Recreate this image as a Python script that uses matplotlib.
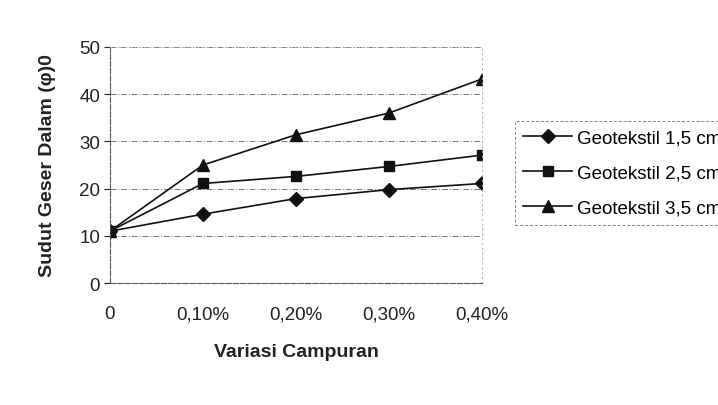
import numpy as np
import matplotlib
matplotlib.use("Agg")
import matplotlib.pyplot as plt

plt.rcParams['font.family'] = ['Liberation Sans', 'DejaVu Sans']

# kadar campuran dan sudut geser dalam untuk tiap tebal geotekstil
variasi = ['0', '0,10%', '0,20%', '0,30%', '0,40%']
geo_15 = [11.0, 14.6, 17.9, 19.8, 21.1]
geo_25 = [11.0, 21.1, 22.6, 24.7, 27.1]
geo_35 = [11.0, 25.0, 31.4, 36.0, 43.2]
label_seri = ['Geotekstil 1,5 cm', 'Geotekstil 2,5 cm', 'Geotekstil 3,5 cm']

fig = plt.figure(figsize=(7.18, 4.06), dpi=100)
ax = fig.add_axes([0.153, 0.300, 0.518, 0.582])

x = np.arange(len(variasi))
ax.plot(x, geo_15, color='#111111', lw=1.2, marker='D', ms=7, label=label_seri[0])
ax.plot(x, geo_25, color='#111111', lw=1.2, marker='s', ms=7.5, label=label_seri[1])
ax.plot(x, geo_35, color='#111111', lw=1.2, marker='^', ms=9, label=label_seri[2])

ax.set_xlim(0, 4)
ax.set_ylim(0, 50)
ax.set_yticks([0, 10, 20, 30, 40, 50])
ax.set_xticks(x)
ax.set_xticklabels(variasi)
ax.tick_params(axis='both', labelsize=13.5, colors='#222222')
ax.tick_params(axis='x', length=0, pad=16)
ax.tick_params(axis='y', length=4, width=0.8, pad=3)

ax.yaxis.grid(True, color='#777777', lw=0.7, ls=(0, (6, 2, 1, 2)))
ax.set_axisbelow(True)
for s in ['left', 'bottom']:
    ax.spines[s].set_color('#555555')
    ax.spines[s].set_linestyle((0, (5, 1.5)))
    ax.spines[s].set_linewidth(0.8)
for s in ['top', 'right']:
    ax.spines[s].set_color('#aaaaaa')
    ax.spines[s].set_linestyle((0, (1, 4)))
    ax.spines[s].set_linewidth(0.7)

ax.set_ylabel('Sudut Geser Dalam (\u03c6)0', fontsize=14, fontweight='bold', color='#222222')
ax.yaxis.set_label_coords(-0.145, 0.5)
ax.set_xlabel('Variasi Campuran', fontsize=14, fontweight='bold', color='#222222')
ax.xaxis.set_label_coords(0.503, -0.255)

leg = ax.legend(loc='upper left', bbox_to_anchor=(515 / 718, 1 - 122 / 406),
                bbox_transform=fig.transFigure, fontsize=13.5, frameon=True,
                fancybox=False, handlelength=2.6, handletextpad=0.25,
                labelspacing=0.95, borderpad=0.45, borderaxespad=0)
leg.get_frame().set_edgecolor('#666666')
leg.get_frame().set_linestyle((0, (3, 2)))
leg.get_frame().set_linewidth(0.7)

fig.savefig('out.png', dpi=100)
